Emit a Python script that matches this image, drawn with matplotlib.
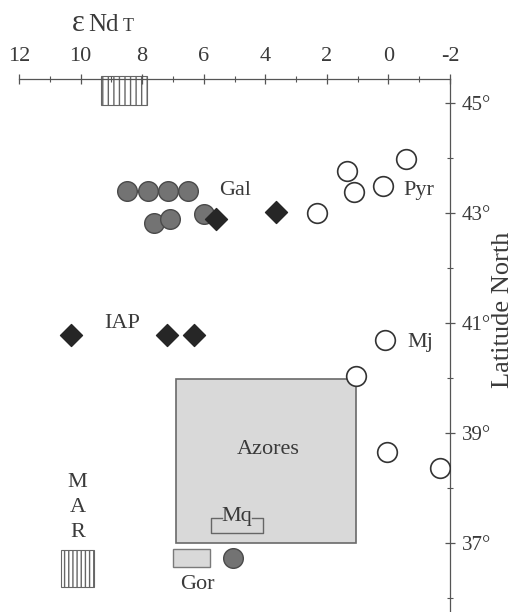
import matplotlib
matplotlib.use("Agg")
import matplotlib.pyplot as plt
from matplotlib.patches import Rectangle

plt.rcParams['font.family'] = ['Liberation Serif', 'DejaVu Serif']

# ---- datos ----
# Galicia (circulos grises)
gal_end = [8.5, 7.8, 7.15, 6.5, 7.6, 7.1, 6.0]
gal_lat = [43.41, 43.41, 43.41, 43.41, 42.82, 42.90, 42.98]
# rombos negros (Gal + IAP)
dia_end = [5.6, 3.65, 10.3, 7.2, 6.3]
dia_lat = [42.89, 43.02, 40.78, 40.78, 40.78]
# circulos abiertos (Pyr, Mj, ...)
open_end = [2.33, 1.36, 1.12, 0.19, -0.56, 0.12, 1.06, 0.06, -1.67]
open_lat = [43.0, 43.77, 43.39, 43.49, 43.99, 40.69, 40.04, 38.66, 38.36]
# Gorringe (circulo gris)
gor_end = [5.06]
gor_lat = [36.74]

# campos (x0, x1, lat0, lat1)
azores_box = (6.9, 1.04, 37.0, 39.98)
gor_box = (7.0, 5.78, 36.57, 36.90)
mar_top_box = (9.35, 7.85, 44.96, 45.5)
mar_box = (10.65, 9.55, 36.2, 36.87)
mq_range = (5.75, 4.07, 37.18, 37.45)

xticks_major = [12, 10, 8, 6, 4, 2, 0, -2]
xticks_minor = [11, 9, 7, 5, 3, 1, -1]
yticks_major = [45, 43, 41, 39, 37]
yticks_minor = [44, 42, 40, 38, 36]

fig = plt.figure(figsize=(5.15, 6.12), dpi=100)
ax = fig.add_axes([19 / 515, 0.0, 431 / 515, 533 / 612])
ax.set_xlim(12, -2)
ax.set_ylim(35.75, 45.44)

for s in ['left', 'bottom']:
    ax.spines[s].set_visible(False)
for s in ['top', 'right']:
    ax.spines[s].set_color('#555555')
    ax.spines[s].set_linewidth(0.9)

ax.xaxis.tick_top()
ax.yaxis.tick_right()
ax.set_xticks(xticks_major)
ax.set_xticks(xticks_minor, minor=True)
ax.set_xticklabels([str(v) for v in xticks_major])
ax.set_yticks(yticks_major)
ax.set_yticks(yticks_minor, minor=True)
ax.set_yticklabels([f"{v}°" for v in yticks_major])
ax.tick_params(which='major', direction='inout', length=7, width=0.9,
               color='#555555', labelsize=16, labelcolor='#3a3a3a', pad=6)
ax.tick_params(axis='y', which='major', labelsize=15, pad=5)
ax.tick_params(which='minor', direction='inout', length=5, width=0.8,
               color='#555555')

# titulo del eje y
fig.text(503 / 515, 1 - 310 / 612, "Latitude North", rotation=90,
         fontsize=19, color='#3a3a3a', ha='center', va='center')

# cajas
x0, x1, y0, y1 = azores_box
ax.add_patch(Rectangle((x1, y0), x0 - x1, y1 - y0, facecolor='#d9d9d9',
                       edgecolor='#6a6a6a', lw=1.2, zorder=1))
x0, x1, y0, y1 = gor_box
ax.add_patch(Rectangle((x1, y0), x0 - x1, y1 - y0, facecolor='#d9d9d9',
                       edgecolor='#7a7a7a', lw=1.0, zorder=1))
for (x0, x1, y0, y1), h in [(mar_top_box, '|||'), (mar_box, '||||')]:
    ax.add_patch(Rectangle((x1, y0), x0 - x1, y1 - y0, facecolor='white',
                           edgecolor='#666666', hatch=h, lw=0.8, zorder=1,
                           clip_on=False))

# corchete Mq
mx0, mx1, my0, my1 = mq_range
tab = 0.35
ax.plot([mx0 - tab, mx0, mx0, mx1, mx1, mx1 + tab],
        [my1, my1, my0, my0, my1, my1], color='#666666', lw=1.0, zorder=2)

# simbolos
ax.scatter(gal_end, gal_lat, s=200, facecolor='#737373', edgecolor='#4a4a4a',
           lw=1.0, zorder=3)
ax.scatter(gor_end, gor_lat, s=200, facecolor='#737373', edgecolor='#4a4a4a',
           lw=1.0, zorder=3)
ax.scatter(dia_end, dia_lat, s=125, marker='D', facecolor='#262626',
           edgecolor='#262626', zorder=4)
ax.scatter(open_end, open_lat, s=200, facecolor='white', edgecolor='#333333',
           lw=1.2, zorder=4)

# etiquetas
txt = dict(fontsize=16, color='#3a3a3a')
ax.text(5.5, 43.41, "Gal", ha='left', va='center', **txt)
ax.text(-0.5, 43.41, "Pyr", ha='left', va='center', **txt)
ax.text(8.66, 40.99, "IAP", ha='center', va='center', **txt)
ax.text(-0.63, 40.65, "Mj", ha='left', va='center', **txt)
ax.text(3.9, 38.7, "Azores", ha='center', va='center', **txt)
ax.text(4.92, 37.49, "Mq", ha='center', va='center', **txt)
ax.text(6.2, 36.25, "Gor", ha='center', va='center', **txt)
for letra, lat in zip("MAR", [38.1, 37.65, 37.2]):
    ax.text(10.1, lat, letra, ha='center', va='center', **txt)

# titulo del eje x
base = 1 - 31 / 612
fig.text(72 / 515, base, "ε", fontsize=22, color='#3a3a3a',
         ha='left', va='baseline')
fig.text(88 / 515, base, "Nd", fontsize=18, color='#3a3a3a',
         ha='left', va='baseline')
fig.text(123 / 515, base, "T", fontsize=13, color='#3a3a3a',
         ha='left', va='baseline')

fig.savefig("out.png", dpi=100)
